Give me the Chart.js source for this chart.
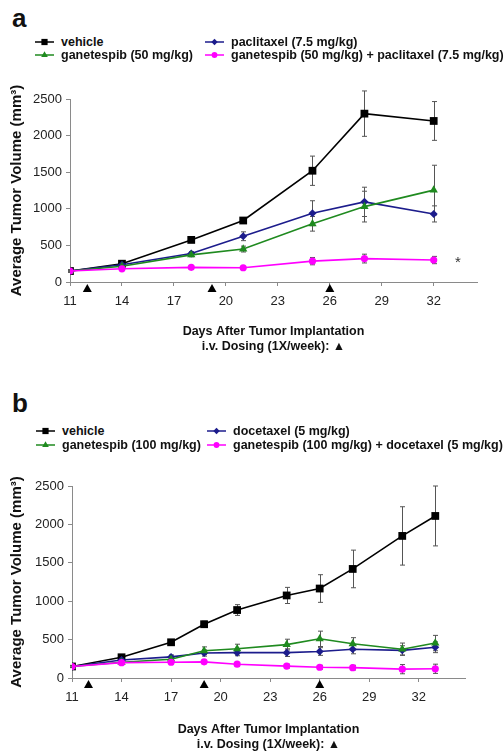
<!DOCTYPE html>
<html>
<head>
<meta charset="utf-8">
<script src="https://cdn.jsdelivr.net/npm/chart.js@4.4.1/dist/chart.umd.min.js"></script>
<style>
html, body { margin: 0; padding: 0; background: #fff; width: 504px; height: 752px; overflow: hidden; }
body { position: relative; font-family: "Liberation Sans", Arial, sans-serif; color: #111; }
.letter { position: absolute; left: 12px; font-weight: bold; font-size: 26px; line-height: 1; }
.item { position: absolute; white-space: nowrap; font-weight: bold; font-size: 12.5px; line-height: 14px; height: 14px; display: flex; align-items: center; }
.item canvas { margin-right: 7px; }
canvas.chart { position: absolute; left: 0; }
</style>
</head>
<body>
<div class="letter" style="top:5px">a</div>
<div id="legendA"></div>
<canvas id="chartA" class="chart" width="504" height="300" style="top:64px"></canvas>

<div class="letter" style="top:390px">b</div>
<div id="legendB"></div>
<canvas id="chartB" class="chart" width="504" height="306" style="top:446px"></canvas>

<script>
// ---- panel a data ----
const daysA = [11, 14, 18, 21, 25, 28, 32];
const namesA = ["vehicle", "paclitaxel (7.5 mg/kg)", "ganetespib (50 mg/kg)", "ganetespib (50 mg/kg) + paclitaxel (7.5 mg/kg)"];
const vehicleA = [150, 250, 575, 840, 1520, 2300, 2200];
const paclitaxelA = [150, 235, 390, 625, 940, 1095, 930];
const ganetespibA = [150, 215, 370, 450, 795, 1030, 1255];
const comboA = [150, 180, 200, 195, 285, 320, 300];
const vehicleErrA = [15, 25, 30, 40, 200, 310, 265];
const paclitaxelErrA = [15, 20, 25, 60, 170, 200, 110];
const ganetespibErrA = [15, 20, 25, 40, 100, 210, 340];
const comboErrA = [10, 15, 15, 15, 50, 60, 50];
const doseDaysA = [12, 19.2, 26];

// ---- panel b data ----
const daysB = [11, 14, 17, 19, 21, 24, 26, 28, 31, 33];
const namesB = ["vehicle", "docetaxel (5 mg/kg)", "ganetespib (100 mg/kg)", "ganetespib (100 mg/kg) + docetaxel (5 mg/kg)"];
const vehicleB = [150, 270, 465, 700, 885, 1075, 1165, 1420, 1850, 2110];
const docetaxelB = [150, 235, 275, 325, 330, 330, 345, 375, 360, 400];
const ganetespibB = [150, 205, 245, 355, 380, 435, 510, 445, 375, 455];
const comboB = [150, 200, 205, 210, 180, 155, 140, 135, 115, 120];
const vehicleErrB = [15, 30, 30, 40, 70, 105, 180, 245, 380, 390];
const docetaxelErrB = [10, 20, 25, 40, 40, 50, 50, 60, 60, 70];
const ganetespibErrB = [10, 20, 25, 50, 60, 70, 100, 80, 80, 100];
const comboErrB = [10, 15, 20, 20, 20, 25, 25, 30, 60, 60];
const doseDaysB = [12, 19, 26];

const xTicks = [11, 14, 17, 20, 23, 26, 29, 32];
const yTicks = [0, 500, 1000, 1500, 2000, 2500];

const colors = ["#000000", "#1c1c8c", "#1f8a1f", "#ff00ff"];
const styles = ["rect", "rectRot", "triangle", "circle"];
const radii = [5.5, 4, 4.8, 3.6];
const FONT = '"Liberation Sans", "DejaVu Sans", Arial, sans-serif';

function drawMarker(ctx, style, x, y, r, color) {
    ctx.fillStyle = color;
    ctx.beginPath();
    if (style === "rect") {
        const s = r * Math.SQRT1_2;
        ctx.rect(x - s, y - s, 2 * s, 2 * s);
    } else if (style === "rectRot") {
        ctx.moveTo(x, y - r); ctx.lineTo(x + r, y); ctx.lineTo(x, y + r); ctx.lineTo(x - r, y);
    } else if (style === "triangle") {
        ctx.moveTo(x, y - r); ctx.lineTo(x + r * 0.866, y + r * 0.5); ctx.lineTo(x - r * 0.866, y + r * 0.5);
    } else {
        ctx.arc(x, y, r, 0, Math.PI * 2);
    }
    ctx.closePath();
    ctx.fill();
}

function buildLegend(id, names, rows, cols) {
    const box = document.getElementById(id);
    names.forEach((name, i) => {
        // order: vehicle, drug (col 2 row 1), ganetespib (col 1 row 2), combo (col 2 row 2)
        const r = [0, 0, 1, 1][i], c = [0, 1, 0, 1][i];
        const item = document.createElement("div");
        item.className = "item";
        item.style.left = cols[c] + "px";
        item.style.top = (rows[r] - 7) + "px";
        const cv = document.createElement("canvas");
        cv.width = 19; cv.height = 12;
        const ctx = cv.getContext("2d");
        ctx.strokeStyle = colors[i];
        ctx.lineWidth = 1.5;
        ctx.beginPath(); ctx.moveTo(0, 6); ctx.lineTo(19, 6); ctx.stroke();
        drawMarker(ctx, styles[i], 9.5, 6, radii[i] * 0.8, colors[i]);
        item.appendChild(cv);
        item.appendChild(document.createTextNode(name));
        box.appendChild(item);
    });
}

const errorBars = {
    id: "errorBars",
    beforeDatasetsDraw(chart) {
        const ctx = chart.ctx, ys = chart.scales.y;
        ctx.save();
        ctx.strokeStyle = "#555";
        ctx.lineWidth = 1;
        chart.data.datasets.forEach((ds, i) => {
            if (!ds.errors) return;
            chart.getDatasetMeta(i).data.forEach((pt, j) => {
                const v = ds.data[j].y, e = ds.errors[j];
                const top = ys.getPixelForValue(v + e), bot = ys.getPixelForValue(v - e);
                const x = Math.round(pt.x) + 0.5;
                ctx.beginPath();
                ctx.moveTo(x, top); ctx.lineTo(x, bot);
                ctx.moveTo(x - 2.5, top); ctx.lineTo(x + 2.5, top);
                ctx.moveTo(x - 2.5, bot); ctx.lineTo(x + 2.5, bot);
                ctx.stroke();
            });
        });
        ctx.restore();
    }
};

const doseMarks = {
    id: "doseMarks",
    afterDraw(chart, args, opts) {
        const ctx = chart.ctx, xs = chart.scales.x, y0 = chart.chartArea.bottom + 2;
        ctx.save();
        ctx.fillStyle = "#000";
        (opts.days || []).forEach(d => {
            const x = xs.getPixelForValue(d);
            ctx.beginPath();
            ctx.moveTo(x, y0); ctx.lineTo(x + 4.5, y0 + 8); ctx.lineTo(x - 4.5, y0 + 8);
            ctx.closePath();
            ctx.fill();
        });
        if (opts.star) {
            ctx.font = "15px " + FONT;
            ctx.fillStyle = "#333";
            ctx.textAlign = "center";
            ctx.textBaseline = "middle";
            ctx.fillText("*", xs.getPixelForValue(opts.star.day), chart.scales.y.getPixelForValue(opts.star.value) + 3);
        }
        ctx.restore();
    }
};

function makeChart(id, days, names, series, errors, cfg) {
    const datasets = series.map((vals, i) => ({
        label: names[i],
        data: days.map((d, j) => ({ x: d, y: vals[j] })),
        errors: errors[i],
        borderColor: colors[i],
        backgroundColor: colors[i],
        borderWidth: 1.6,
        pointStyle: styles[i],
        pointRadius: radii[i],
        pointBorderWidth: 0,
        tension: 0
    }));
    const tickFont = { family: FONT, size: 13 };
    return new Chart(document.getElementById(id), {
        type: "line",
        data: { datasets: datasets.reverse() },
        plugins: [errorBars, doseMarks],
        options: {
            responsive: false,
            animation: false,
            devicePixelRatio: 1,
            layout: { padding: { top: cfg.top, right: cfg.right, bottom: 0, left: 0 } },
            plugins: {
                legend: { display: false },
                tooltip: { enabled: false },
                doseMarks: { days: cfg.doseDays, star: cfg.star }
            },
            scales: {
                x: {
                    type: "linear",
                    min: 11,
                    max: cfg.xMax,
                    afterBuildTicks: axis => { axis.ticks = xTicks.map(v => ({ value: v })); },
                    afterFit: axis => { axis.height = cfg.xHeight; },
                    ticks: { font: tickFont, color: "#222", padding: 8, maxRotation: 0, callback: v => String(v) },
                    grid: { drawOnChartArea: false, drawTicks: true, tickLength: 4, color: "#8a8a8a" },
                    border: { color: "#8a8a8a" },
                    title: {
                        display: true,
                        text: ["Days After Tumor Implantation", "i.v. Dosing (1X/week): \u25B2"],
                        font: { family: FONT, size: 12.5, weight: "bold", lineHeight: "15px" },
                        color: "#111",
                        padding: { top: 0, bottom: cfg.titlePad }
                    }
                },
                y: {
                    min: 0,
                    max: 2500,
                    afterBuildTicks: axis => { axis.ticks = yTicks.map(v => ({ value: v })); },
                    afterFit: axis => { axis.width = cfg.yWidth; },
                    ticks: { font: tickFont, color: "#222", padding: 4, callback: v => String(v) },
                    grid: { drawOnChartArea: false, drawTicks: true, tickLength: 4, color: "#8a8a8a" },
                    border: { color: "#8a8a8a" },
                    title: {
                        display: true,
                        text: "Average Tumor Volume (mm\u00B3)",
                        font: { family: FONT, size: 15, weight: "bold", lineHeight: "18px" },
                        color: "#111",
                        padding: { top: 8, bottom: 0 }
                    }
                }
            }
        }
    });
}

buildLegend("legendA", namesA, [42, 55], [35, 205]);
buildLegend("legendB", namesB, [431, 445], [36, 207]);

makeChart("chartA", daysA, namesA,
    [vehicleA, paclitaxelA, ganetespibA, comboA],
    [vehicleErrA, paclitaxelErrA, ganetespibErrA, comboErrA],
    { top: 35, right: 27, xMax: 34.5, xHeight: 82, yWidth: 70, titlePad: 10, doseDays: doseDaysA, star: { day: 33.4, value: 300 } });

makeChart("chartB", daysB, namesB,
    [vehicleB, docetaxelB, ganetespibB, comboB],
    [vehicleErrB, docetaxelErrB, ganetespibErrB, comboErrB],
    { top: 40, right: 39, xMax: 34.8, xHeight: 74, yWidth: 72, titlePad: 0, doseDays: doseDaysB });
</script>
</body>
</html>
